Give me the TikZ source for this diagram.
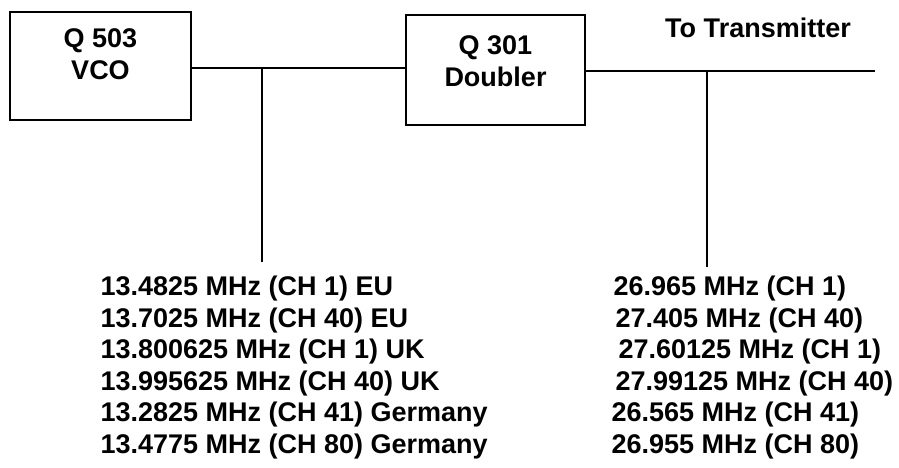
\documentclass[tikz,border=0pt]{standalone}
\usepackage{fontspec}
\setmainfont{Liberation Sans}

\tikzset{every picture/.style={line width=1.7pt}}
\tikzset{
  block/.style={draw, inner sep=0pt},
  blocktext/.style={align=center, inner sep=0.75pt, font=\fontsize{27}{32}\selectfont\bfseries},
  freqtext/.style={anchor=west, inner sep=0.75pt, font=\fontsize{27}{31}\selectfont\bfseries},
}

\begin{document}
\begin{tikzpicture}[x=1pt,y=1pt,yscale=-1]
\useasboundingbox (0,0) rectangle (899,468);

%Blocks
\node [block, minimum width=181pt, minimum height=108pt] (vco) at (100.5,66) {};
\node [block, minimum width=179pt, minimum height=110pt] (doubler) at (495.5,70) {};
\node [blocktext] (vcotext) at ([yshift=-12pt]vco.center) {Q 503\\VCO};
\node [blocktext] (doublertext) at ([yshift=-9pt]doubler.center) {Q 301\\Doubler};

%Taps and ends
\coordinate (tapvco) at (262,68);
\coordinate (tapvcoend) at (262,262);
\coordinate (taptx) at (707,71);
\coordinate (taptxend) at (707,267);
\coordinate (txend) at (875,71);

%Straight Lines
\draw (vco.east |- tapvco) -- (tapvco) -- (doubler.west |- tapvco) ;
\draw (tapvco) -- (tapvcoend) ;
\draw (doubler.east |- taptx) -- (taptx) -- (txend) ;
\draw (taptx) -- (taptxend) ;

% Text Node
\node [blocktext] (totx) at (758,28) {To Transmitter};

% Text Node - VCO frequencies
\node [freqtext] (vcof1) at (99,289) {13.4825 MHz (CH 1) EU};
\node [freqtext] (vcof2) at (99,320.5) {13.7025 MHz (CH 40) EU};
\node [freqtext] (vcof3) at (99,352) {13.800625 MHz (CH 1) UK};
\node [freqtext] (vcof4) at (99,383.5) {13.995625 MHz (CH 40) UK};
\node [freqtext] (vcof5) at (99,415) {13.2825 MHz (CH 41) Germany};
\node [freqtext] (vcof6) at (99,446.5) {13.4775 MHz (CH 80) Germany};

% Text Node - transmitter frequencies
\node [freqtext] (txf1) at (612,289) {26.965 MHz (CH 1)};
\node [freqtext] (txf2) at (614,320.5) {27.405 MHz (CH 40)};
\node [freqtext] (txf3) at (617,352) {27.60125 MHz (CH 1)};
\node [freqtext] (txf4) at (614,383.5) {27.99125 MHz (CH 40)};
\node [freqtext] (txf5) at (610,415) {26.565 MHz (CH 41)};
\node [freqtext] (txf6) at (610,446.5) {26.955 MHz (CH 80)};

\end{tikzpicture}
\end{document}
